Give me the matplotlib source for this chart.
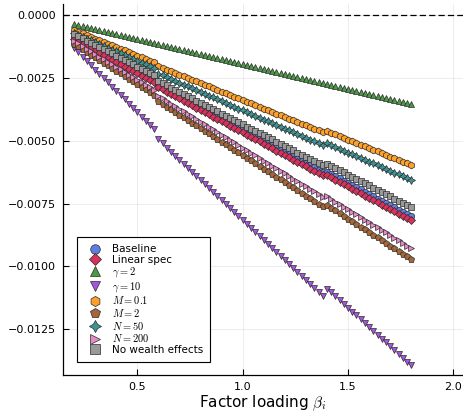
import numpy as np
import matplotlib.pyplot as plt
from matplotlib.ticker import FuncFormatter, MultipleLocator

# factor loadings on the x axis
beta = [
    0.20, 0.22, 0.24, 0.26, 0.28, 0.30, 0.32, 0.34, 0.36, 0.38,
    0.40, 0.42, 0.44, 0.46, 0.48, 0.50, 0.52, 0.54, 0.56, 0.58,
    0.60, 0.62, 0.64, 0.66, 0.68, 0.70, 0.72, 0.74, 0.76, 0.78,
    0.80, 0.82, 0.84, 0.86, 0.88, 0.90, 0.92, 0.94, 0.96, 0.98,
    1.00, 1.02, 1.04, 1.06, 1.08, 1.10, 1.12, 1.14, 1.16, 1.18,
    1.20, 1.22, 1.24, 1.26, 1.28, 1.30, 1.32, 1.34, 1.36, 1.38,
    1.40, 1.42, 1.44, 1.46, 1.48, 1.50, 1.52, 1.54, 1.56, 1.58,
    1.60, 1.62, 1.64, 1.66, 1.68, 1.70, 1.72, 1.74, 1.76, 1.78,
    1.80,
]

# responses, in units of 1e-4
resp_baseline = [
    -8.9, -9.8, -10.7, -11.6, -12.5, -13.4, -14.2, -15.1, -16.0, -16.9,
    -17.8, -18.7, -19.6, -20.5, -21.4, -22.3, -23.1, -24.0, -24.9, -25.8,
    -27.7, -28.6, -29.5, -30.4, -31.3, -32.2, -33.0, -33.9, -34.8, -35.7,
    -36.6, -37.5, -38.4, -39.3, -40.2, -41.1, -41.9, -42.8, -43.7, -44.6,
    -45.5, -46.4, -47.3, -48.2, -49.1, -50.0, -50.8, -51.7, -52.6, -53.5,
    -54.4, -55.3, -56.2, -57.1, -58.0, -58.9, -59.7, -60.6, -61.5, -62.4,
    -62.3, -63.2, -64.1, -65.0, -65.9, -66.8, -67.6, -68.5, -69.4, -70.3,
    -71.2, -72.1, -73.0, -73.9, -74.8, -75.7, -76.5, -77.4, -78.3, -79.2,
    -80.1,
]
resp_linear = [
    -9.7, -10.6, -11.5, -12.4, -13.3, -14.2, -15.1, -16.0, -16.9, -17.8,
    -18.7, -19.6, -20.5, -21.4, -22.3, -23.2, -24.1, -25.0, -25.9, -26.8,
    -28.7, -29.6, -30.5, -31.4, -32.3, -33.2, -34.1, -35.0, -35.9, -36.8,
    -37.7, -38.6, -39.5, -40.4, -41.3, -42.2, -43.1, -44.0, -44.9, -45.8,
    -46.7, -47.6, -48.5, -49.4, -50.3, -51.2, -52.1, -53.0, -53.9, -54.8,
    -55.7, -56.6, -57.5, -58.4, -59.3, -60.2, -61.1, -62.0, -62.9, -63.8,
    -63.7, -64.6, -65.5, -66.4, -67.3, -68.2, -69.1, -70.0, -70.9, -71.8,
    -72.7, -73.6, -74.5, -75.4, -76.3, -77.2, -78.1, -79.0, -79.9, -80.8,
    -81.7,
]
resp_gamma2 = [
    -3.4, -3.8, -4.2, -4.6, -5.0, -5.4, -5.8, -6.2, -6.6, -7.0,
    -7.4, -7.8, -8.2, -8.6, -9.0, -9.4, -9.8, -10.2, -10.6, -11.0,
    -11.4, -11.8, -12.2, -12.6, -13.0, -13.4, -13.8, -14.2, -14.6, -15.0,
    -15.4, -15.8, -16.2, -16.6, -17.0, -17.4, -17.8, -18.2, -18.6, -19.0,
    -19.4, -19.8, -20.2, -20.6, -21.0, -21.4, -21.8, -22.2, -22.6, -23.0,
    -23.4, -23.8, -24.2, -24.6, -25.0, -25.4, -25.8, -26.2, -26.6, -27.0,
    -27.4, -27.8, -28.2, -28.6, -29.0, -29.4, -29.8, -30.2, -30.6, -31.0,
    -31.4, -31.8, -32.2, -32.6, -33.0, -33.4, -33.8, -34.2, -34.6, -35.0,
    -35.4,
]
resp_gamma10 = [
    -13.2, -14.9, -16.6, -18.3, -20.0, -21.7, -23.4, -25.1, -26.8, -28.5,
    -30.2, -31.9, -33.6, -35.3, -37.0, -38.7, -40.4, -42.1, -43.8, -45.5,
    -49.5, -51.1, -52.7, -54.3, -55.9, -57.5, -59.1, -60.7, -62.3, -63.9,
    -65.5, -67.1, -68.7, -70.3, -71.9, -73.5, -75.1, -76.7, -78.3, -79.9,
    -81.5, -83.1, -84.7, -86.3, -87.9, -89.5, -91.1, -92.7, -94.3, -95.9,
    -97.5, -99.1, -100.7, -102.3, -103.9, -105.5, -107.1, -108.7, -110.3, -111.9,
    -108.8, -110.3, -111.9, -113.4, -114.9, -116.5, -118.0, -119.5, -121.0, -122.6,
    -124.1, -125.6, -127.2, -128.7, -130.2, -131.8, -133.3, -134.8, -136.3, -137.9,
    -139.4,
]
resp_m01 = [
    -6.0, -6.7, -7.3, -8.0, -8.7, -9.4, -10.0, -10.7, -11.4, -12.0,
    -12.7, -13.4, -14.0, -14.7, -15.4, -16.1, -16.7, -17.4, -18.1, -18.7,
    -20.4, -21.1, -21.7, -22.4, -23.1, -23.8, -24.4, -25.1, -25.8, -26.4,
    -27.1, -27.8, -28.4, -29.1, -29.8, -30.5, -31.1, -31.8, -32.5, -33.1,
    -33.8, -34.5, -35.1, -35.8, -36.5, -37.2, -37.8, -38.5, -39.2, -39.8,
    -40.5, -41.2, -41.8, -42.5, -43.2, -43.9, -44.5, -45.2, -45.9, -46.5,
    -46.2, -46.9, -47.5, -48.2, -48.9, -49.6, -50.2, -50.9, -51.6, -52.2,
    -52.9, -53.6, -54.2, -54.9, -55.6, -56.3, -56.9, -57.6, -58.3, -58.9,
    -59.6,
]
resp_m2 = [
    -11.4, -12.5, -13.5, -14.6, -15.7, -16.8, -17.8, -18.9, -20.0, -21.0,
    -22.1, -23.2, -24.2, -25.3, -26.4, -27.5, -28.5, -29.6, -30.7, -31.7,
    -34.3, -35.4, -36.4, -37.5, -38.6, -39.7, -40.7, -41.8, -42.9, -43.9,
    -45.0, -46.1, -47.1, -48.2, -49.3, -50.4, -51.4, -52.5, -53.6, -54.6,
    -55.7, -56.8, -57.8, -58.9, -60.0, -61.1, -62.1, -63.2, -64.3, -65.3,
    -66.4, -67.5, -68.5, -69.6, -70.7, -71.8, -72.8, -73.9, -75.0, -76.0,
    -75.6, -76.7, -77.7, -78.8, -79.9, -81.0, -82.0, -83.1, -84.2, -85.2,
    -86.3, -87.4, -88.4, -89.5, -90.6, -91.7, -92.7, -93.8, -94.9, -95.9,
    -97.0,
]
resp_n50 = [
    -7.2, -7.9, -8.7, -9.4, -10.1, -10.9, -11.6, -12.3, -13.0, -13.8,
    -14.5, -15.2, -16.0, -16.7, -17.4, -18.2, -18.9, -19.6, -20.3, -21.1,
    -23.3, -24.0, -24.8, -25.5, -26.2, -27.0, -27.7, -28.4, -29.1, -29.9,
    -30.6, -31.3, -32.1, -32.8, -33.5, -34.3, -35.0, -35.7, -36.4, -37.2,
    -37.9, -38.6, -39.4, -40.1, -40.8, -41.6, -42.3, -43.0, -43.7, -44.5,
    -45.2, -45.9, -46.7, -47.4, -48.1, -48.9, -49.6, -50.3, -51.0, -51.8,
    -51.0, -51.7, -52.5, -53.2, -53.9, -54.7, -55.4, -56.1, -56.8, -57.6,
    -58.3, -59.0, -59.8, -60.5, -61.2, -62.0, -62.7, -63.4, -64.1, -64.9,
    -65.6,
]
resp_n200 = [
    -10.3, -11.3, -12.4, -13.4, -14.4, -15.5, -16.5, -17.5, -18.5, -19.6,
    -20.6, -21.6, -22.7, -23.7, -24.7, -25.8, -26.8, -27.8, -28.8, -29.9,
    -32.1, -33.1, -34.2, -35.2, -36.2, -37.3, -38.3, -39.3, -40.3, -41.4,
    -42.4, -43.4, -44.5, -45.5, -46.5, -47.6, -48.6, -49.6, -50.6, -51.7,
    -52.7, -53.7, -54.8, -55.8, -56.8, -57.9, -58.9, -59.9, -60.9, -62.0,
    -63.0, -64.0, -65.1, -66.1, -67.1, -68.2, -69.2, -70.2, -71.2, -72.3,
    -72.1, -73.1, -74.2, -75.2, -76.2, -77.3, -78.3, -79.3, -80.3, -81.4,
    -82.4, -83.4, -84.5, -85.5, -86.5, -87.6, -88.6, -89.6, -90.6, -91.7,
    -92.7,
]
resp_nowealth = [
    -7.6, -8.5, -9.3, -10.2, -11.0, -11.9, -12.8, -13.6, -14.5, -15.3,
    -16.2, -17.1, -17.9, -18.8, -19.6, -20.5, -21.4, -22.2, -23.1, -23.9,
    -26.3, -27.2, -28.0, -28.9, -29.7, -30.6, -31.5, -32.3, -33.2, -34.0,
    -34.9, -35.8, -36.6, -37.5, -38.3, -39.2, -40.1, -40.9, -41.8, -42.6,
    -43.5, -44.4, -45.2, -46.1, -46.9, -47.8, -48.7, -49.5, -50.4, -51.2,
    -52.1, -53.0, -53.8, -54.7, -55.5, -56.4, -57.3, -58.1, -59.0, -59.8,
    -59.2, -60.1, -60.9, -61.8, -62.6, -63.5, -64.4, -65.2, -66.1, -66.9,
    -67.8, -68.7, -69.5, -70.4, -71.2, -72.1, -73.0, -73.8, -74.7, -75.5,
    -76.4,
]

labels = ["Baseline", "Linear spec", r"$\gamma = 2$", r"$\gamma = 10$",
          r"$M = 0.1$", r"$M = 2$", r"$N = 50$", r"$N = 200$",
          "No wealth effects"]

plt.rcParams["font.family"] = "DejaVu Sans"
plt.rcParams["mathtext.fontset"] = "cm"

# label, data, colour, marker, size (draw order as in the legend)
series = [
    (labels[0], resp_baseline, "#5f7fe0", "o", 4.6),
    (labels[1], resp_linear, "#d8325c", "D", 4.0),
    (labels[2], resp_gamma2, "#4a9a45", "^", 5.0),
    (labels[3], resp_gamma10, "#a655e0", "v", 5.0),
    (labels[4], resp_m01, "#ffa02a", "h", 4.9),
    (labels[5], resp_m2, "#a66638", "p", 4.9),
    (labels[6], resp_n50, "#3e9494", (4, 1, 0), 5.8),
    (labels[7], resp_n200, "#e68bc8", ">", 4.6),
    (labels[8], resp_nowealth, "#999999", "s", 4.6),
]

fig = plt.figure(figsize=(4.64, 4.15), dpi=100)
ax = fig.add_axes([0.1353, 0.0952, 0.8636, 0.894])

ax.axhline(0, color="black", linewidth=0.9, linestyle=(0, (5, 2.5)), zorder=1)

x = np.array(beta)
for label, vals, color, marker, ms in series:
    ax.plot(x, np.array(vals) * 1e-4, linestyle="none", marker=marker,
            markersize=ms, markerfacecolor=color, markeredgecolor="#2b2b2b",
            markeredgewidth=0.5, label=label, zorder=2)

ax.set_xlim(0.146, 2.048)
ax.set_ylim(-0.01434, 0.00042)
ax.xaxis.set_major_locator(MultipleLocator(0.5))
ax.yaxis.set_major_locator(MultipleLocator(0.0025))


def fmt_y(v, pos):
    s = f"{v:.4f}"
    if s == "-0.0000":
        s = "0.0000"
    return s.replace("-", "\u2212")


ax.yaxis.set_major_formatter(FuncFormatter(fmt_y))
ax.xaxis.set_major_formatter(FuncFormatter(lambda v, p: f"{v:.1f}"))

ax.grid(True, color="black", alpha=0.1, linewidth=0.5)
ax.set_axisbelow(True)
ax.tick_params(direction="in", length=4, width=0.8, labelsize=8, pad=5,
               color="black")
ax.spines["top"].set_visible(False)
ax.spines["right"].set_visible(False)
ax.spines["left"].set_linewidth(0.9)
ax.spines["bottom"].set_linewidth(0.9)

ax.set_xlabel(r"Factor loading $\beta_i$", fontsize=11, labelpad=1)

leg = ax.legend(loc="lower left", bbox_to_anchor=(0.0362, 0.0356),
                borderaxespad=0, fontsize=7.5, frameon=True, fancybox=False,
                framealpha=1, edgecolor="black", markerscale=1.5,
                handlelength=2.0, handletextpad=0.6, borderpad=0.7,
                labelspacing=0.06, numpoints=1)
leg.get_frame().set_linewidth(0.8)

fig.savefig("out.png", dpi=100)
